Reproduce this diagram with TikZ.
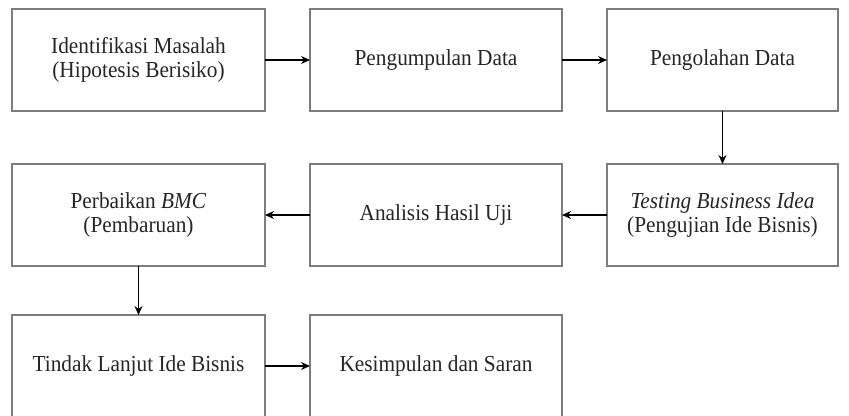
\documentclass[tikz,border=0pt]{standalone}
\usepackage{fontspec}
\setmainfont{Liberation Serif}[FakeStretch=0.93]
\usetikzlibrary{positioning,arrows.meta}

\begin{document}
\begin{tikzpicture}[x=1bp,y=1bp,->,>={Stealth[length=9bp,width=8bp]},line width=1.3bp]
  \tikzstyle{tahap}=[rectangle,draw={rgb,255:red,125;green,125;blue,125},fill=white,
    minimum height=102bp,inner sep=0pt,outer sep=0pt,align=center,
    font=\fontsize{23}{23.5}\selectfont,text=black!85]
  \useasboundingbox (0,0) rectangle (849,-415);
  \node [tahap,minimum width=253bp] (I) at (138.5,-60) {Identifikasi Masalah\\(Hipotesis Berisiko)};
  \node [tahap,minimum width=252bp] (K) [right=45bp of I] {Pengumpulan Data};
  \node [tahap,minimum width=231bp] (O) [right=45bp of K] {Pengolahan Data};
  \node [tahap,minimum width=231bp] (T) [below=53bp of O] {\textit{Testing Business Idea}\\(Pengujian Ide Bisnis)};
  \node [tahap,minimum width=252bp] (A) [below=53bp of K] {Analisis Hasil Uji};
  \node [tahap,minimum width=253bp] (P) [below=53bp of I] {Perbaikan \textit{BMC}\\(Pembaruan)};
  \node [tahap,minimum width=253bp] (L) [below=49bp of P] {Tindak Lanjut Ide Bisnis};
  \node [tahap,minimum width=252bp] (S) [below=49bp of A] {Kesimpulan dan Saran};

  \path (I) edge (K)
        (K) edge (O)
        (O) edge (T)
        (T) edge (A)
        (A) edge (P)
        (P) edge (L)
        (L) edge (S);
\end{tikzpicture}
\end{document}
